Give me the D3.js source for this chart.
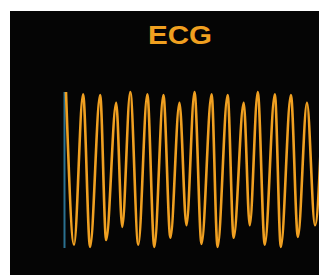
<!DOCTYPE html>
<html>
<head>
<meta charset="utf-8">
<script src="https://cdn.jsdelivr.net/npm/d3@7"></script>
<style>
  html, body { margin: 0; padding: 0; background: #fff; }
  svg { display: block; }
</style>
</head>
<body>
<svg id="canvas" width="319" height="275"></svg>
<script>
// extrema of the trace: time (s) and amplitude (mV)
const times = [0, .08, .17, .24, .34, .40, .50, .56, .64, .72, .81, .88, .97, 1.04, 1.13, 1.20,
    1.28, 1.35, 1.45, 1.51, 1.61, 1.67, 1.77, 1.83, 1.91, 1.98, 2.08, 2.14, 2.24, 2.31, 2.40, 2.48, 2.56];
const volts = [1.00, -0.97, 0.97, -1.00, 0.96, -0.91, 0.86, -0.74, 1.00, -0.97, 0.97, -1.00, 0.96, -0.88, 0.86, -0.72,
    1.00, -0.96, 0.97, -1.00, 0.96, -0.88, 0.86, -0.72, 1.00, -0.97, 0.97, -1.00, 0.96, -0.87, 0.86, -0.72, 1.00];
const cursorTime = -0.015;
const title = 'ECG';

const svg = d3.select('#canvas');

svg.append('rect')
    .attr('x', 10)
    .attr('y', 11)
    .attr('width', 309)
    .attr('height', 264)
    .attr('fill', '#050505');

const glow = svg.append('defs').append('filter')
    .attr('id', 'glow')
    .attr('filterUnits', 'userSpaceOnUse')
    .attr('x', 0).attr('y', 0)
    .attr('width', 319).attr('height', 275);
glow.append('feGaussianBlur').attr('stdDeviation', 0.7);

let x = d3.scaleLinear().domain([0, 2.52]).range([66, 319]);
let y = d3.scaleLinear().domain([-1, 1]).range([247, 92]);

svg.append('text')
    .attr('x', 180)
    .attr('y', 44)
    .attr('text-anchor', 'middle')
    .attr('font-family', 'Liberation Sans, Arial, sans-serif')
    .attr('font-weight', 'bold')
    .attr('font-size', 25)
    .attr('textLength', 64)
    .attr('lengthAdjust', 'spacingAndGlyphs')
    .attr('fill', '#f0a020')
    .text(title);

svg.append('line')
    .attr('x1', x(cursorTime))
    .attr('x2', x(cursorTime))
    .attr('y1', y(1))
    .attr('y2', y(-1) + 1)
    .attr('stroke', '#2b7190')
    .attr('stroke-width', 2)
    .attr('filter', 'url(#glow)');

const points = times.map((t, i) => [t, volts[i]]);

const line = d3.line()
    .x(d => x(d[0]))
    .y(d => y(d[1]))
    .curve(d3.curveMonotoneX);

svg.append('path')
    .datum(points)
    .attr('d', line)
    .attr('fill', 'none')
    .attr('stroke', '#f0a020')
    .attr('stroke-width', 2.6)
    .attr('filter', 'url(#glow)');
</script>
</body>
</html>
